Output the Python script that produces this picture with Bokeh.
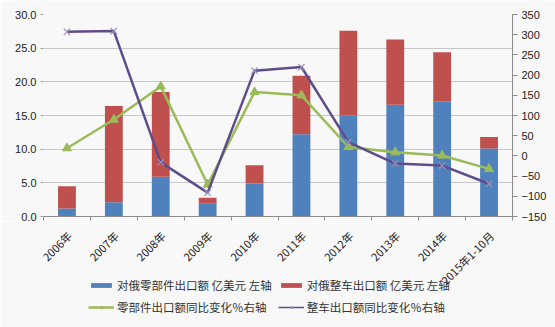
import numpy as np
from bokeh.plotting import figure
from bokeh.layouts import column
from bokeh.core.properties import value
from bokeh.models import (Range1d, LinearAxis, FixedTicker, Legend, LegendItem,
                          NumeralTickFormatter)
from bokeh.embed import file_html
from bokeh.resources import INLINE

categories = ["2006年", "2007年", "2008年", "2009年", "2010年", "2011年",
              "2012年", "2013年", "2014年", "2015年1-10月"]
parts_export = [1.2, 2.1, 5.9, 1.9, 4.9, 12.2, 15.0, 16.6, 17.1, 10.1]
vehicle_export = [3.3, 14.3, 12.6, 0.9, 2.7, 8.7, 12.6, 9.7, 7.3, 1.7]
parts_yoy = [19, 90, 172, -71, 158, 150, 22, 9, 1, -32]
vehicle_yoy = [307, 309, -16, -91, 211, 220, 34, -19, -24, -69]
left_ticks = [0, 5, 10, 15, 20, 25, 30]
right_ticks = [-150, -100, -50, 0, 50, 100, 150, 200, 250, 300, 350]
legend_labels = ["对俄零部件出口额 亿美元 左轴", "对俄整车出口额 亿美元 左轴",
                 "零部件出口额同比变化％右轴", "整车出口额同比变化％右轴"]

BLUE = "#4F81BD"
RED = "#C0504D"
GREEN = "#9BBB59"
PURPLE = "#5E4C8C"
XMARK = "#9A8FB8"
BG = "#F8F8F8"
NUMFONT = "Liberation Sans"
CJK = "Noto Sans CJK SC"

W, H = 555, 327
L, R, T = 43, 43, 14
MAIN_H = 221          # frame bottom at 216 + axis band
BOT_H = H - MAIN_H

n = len(categories)
x = np.arange(n)
parts = np.array(parts_export)
veh = np.array(vehicle_export)

p = figure(width=W, height=MAIN_H, output_backend="svg", toolbar_location=None,
           x_range=Range1d(-0.5, n - 0.5), y_range=Range1d(0, 30),
           min_border_left=L, min_border_right=R, min_border_top=T, min_border_bottom=5,
           background_fill_color=BG, border_fill_color=BG, outline_line_color=None)
p.extra_y_ranges = {"right": Range1d(-150, 350)}

p.vbar(x=x, bottom=0, top=parts, width=0.38, color=BLUE, line_color=None)
p.vbar(x=x, bottom=parts, top=parts + veh, width=0.38, color=RED, line_color=None)

p.line(x, parts_yoy, y_range_name="right", line_color=GREEN, line_width=2.5)
p.scatter(x, parts_yoy, y_range_name="right", marker="triangle", size=9, color=GREEN)
p.line(x, vehicle_yoy, y_range_name="right", line_color=PURPLE, line_width=2.5)
p.scatter(x, vehicle_yoy, y_range_name="right", marker="x", size=9,
          line_color=XMARK, line_width=1.2)

# x axis: line + boundary ticks only (category labels drawn in the strip below)
xa = p.xaxis[0]
xa.ticker = FixedTicker(ticks=[], minor_ticks=list(np.arange(-0.5, n, 1.0)))
xa.major_tick_line_color = None
xa.major_label_text_font_size = "0px"
xa.major_label_standoff = 0
xa.minor_tick_in = 0
xa.minor_tick_out = 4
xa.minor_tick_line_color = "#8C8C8C"
xa.axis_line_color = "#8C8C8C"

# left axis
ya = p.yaxis[0]
ya.ticker = FixedTicker(ticks=left_ticks)
ya.formatter = NumeralTickFormatter(format="0.0")
ya.axis_line_color = None
ya.major_tick_line_color = "#A0A0A0"
ya.major_tick_in = 0
ya.major_tick_out = 3
ya.minor_tick_line_color = None
ya.major_label_text_font = NUMFONT
ya.major_label_text_font_size = "11px"
ya.major_label_text_color = "#222222"
ya.major_label_standoff = 4

# right axis
ra = LinearAxis(y_range_name="right", ticker=FixedTicker(ticks=right_ticks))
ra.axis_line_color = "#8C8C8C"
ra.major_tick_line_color = "#8C8C8C"
ra.major_tick_in = 0
ra.major_tick_out = 5
ra.minor_tick_line_color = None
ra.major_label_text_font = NUMFONT
ra.major_label_text_font_size = "11px"
ra.major_label_text_color = "#222222"
ra.major_label_standoff = 4
p.add_layout(ra, "right")

p.xgrid.grid_line_color = None
p.ygrid.ticker = FixedTicker(ticks=left_ticks)
p.ygrid.grid_line_color = "#C8C8C8"
p.ygrid.grid_line_width = 1

# bottom strip: category labels + legend (frame aligned with the main frame)
lf = figure(width=W, height=BOT_H, output_backend="svg", toolbar_location=None,
            x_range=p.x_range, y_range=Range1d(BOT_H, 0),
            x_axis_location=None, y_axis_location=None,
            min_border_left=L, min_border_right=R, min_border_top=0, min_border_bottom=0,
            background_fill_color=BG, border_fill_color=BG, outline_line_color=None)
lf.grid.visible = False
lf.text(x=x + 0.05, y=[233 - MAIN_H] * n, text=categories, angle=np.pi / 4,
        text_align="right", text_baseline="middle", text_font=value(CJK),
        text_font_size="11px", text_color="#222222")

off = [-1000]
k1 = lf.vbar(x=off, top=off, width=0.1, color=BLUE, line_color=None)
k2 = lf.vbar(x=off, top=off, width=0.1, color=RED, line_color=None)
k3l = lf.line(x=off, y=off, line_color=GREEN, line_width=2.5)
k3s = lf.scatter(x=off, y=off, marker="triangle", size=7, color=GREEN)
k4l = lf.line(x=off, y=off, line_color=PURPLE, line_width=1.5)
k4s = lf.scatter(x=off, y=off, marker="x", size=7, line_color=XMARK, line_width=1.2)
it = [LegendItem(label=legend_labels[0], renderers=[k1]),
      LegendItem(label=legend_labels[1], renderers=[k2]),
      LegendItem(label=legend_labels[2], renderers=[k3l, k3s]),
      LegendItem(label=legend_labels[3], renderers=[k4l, k4s])]
legend = Legend(items=[it[0], it[2], it[1], it[3]], ncols=2, location=(45, 12),
                label_text_font=CJK, label_text_font_size="11.5px",
                label_text_color="#333333", glyph_width=26, glyph_height=6, spacing=6,
                label_standoff=3, padding=0, margin=0, background_fill_alpha=0,
                border_line_color=None, label_height=14)
lf.add_layout(legend, "center")

layout = column(p, lf, spacing=0)
open("out.html", "w").write(file_html(layout, INLINE))
